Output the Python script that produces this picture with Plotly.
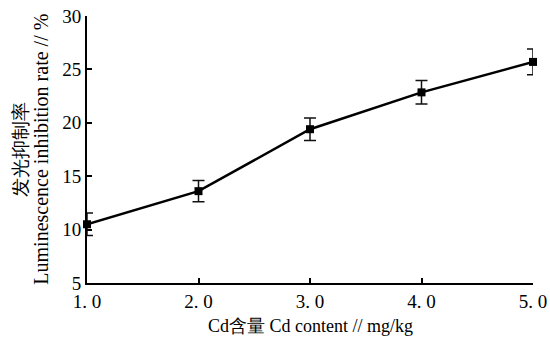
import plotly.graph_objects as go

cd_content = [1, 2, 3, 4, 5]
inhibition = [10.5, 13.6, 19.4, 22.85, 25.7]
err = [1.05, 1.0, 1.05, 1.1, 1.2]
x_ticks = [1, 2, 3, 4, 5]
x_ticktext = ["1. 0", "2. 0", "3. 0", "4. 0", "5. 0"]
y_ticks = [5, 10, 15, 20, 25, 30]
x_title = "Cd含量 Cd content // mg/kg"
y_title_cn = "发光抑制率"
y_title_en = "Luminescence inhibition rate // %"

FONT = "Liberation Serif"

fig = go.Figure()
fig.add_trace(go.Scatter(
    x=cd_content, y=inhibition,
    mode="lines+markers",
    line=dict(color="black", width=2.5),
    marker=dict(symbol="square", size=8, color="black"),
    error_y=dict(type="data", array=err, visible=True, color="#111", thickness=1.5, width=6),
    cliponaxis=False,
    showlegend=False,
))

axis_common = dict(
    ticks="inside", ticklen=5, tickwidth=1.5, tickcolor="black",
    showline=True, linecolor="black", linewidth=2,
    showgrid=False, zeroline=False, automargin=False,
    tickfont=dict(family=FONT, size=19, color="black"),
)

fig.update_layout(
    width=550, height=338,
    margin=dict(l=87, r=17, t=16, b=55),
    paper_bgcolor="white", plot_bgcolor="white",
    font=dict(family=FONT, size=18, color="black"),
    xaxis=dict(range=[1, 5], tickvals=x_ticks, ticktext=x_ticktext, **axis_common),
    yaxis=dict(range=[5, 30], tickvals=y_ticks, **axis_common),
)

fig.add_annotation(text=x_title, xref="paper", yref="paper", x=0.5, y=-0.16,
                   xanchor="center", yanchor="middle", showarrow=False,
                   font=dict(family=FONT, size=18, color="black"))
fig.add_annotation(text=y_title_cn, xref="paper", yref="paper", x=-0.15, y=0.5,
                   xanchor="center", yanchor="middle", showarrow=False, textangle=-90,
                   font=dict(family=FONT, size=19, color="black"))
fig.add_annotation(text=y_title_en, xref="paper", yref="paper", x=-0.105, y=0.5,
                   xanchor="center", yanchor="middle", showarrow=False, textangle=-90,
                   font=dict(family=FONT, size=20, color="black"))

fig.write_html("out.html", config={"displayModeBar": False},
               post_script="document.body.style.margin='0px';")
